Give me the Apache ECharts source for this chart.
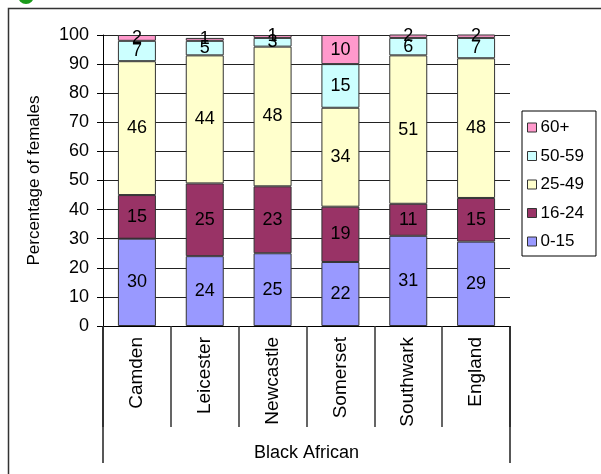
<!DOCTYPE html>
<html>
<head>
<meta charset="utf-8">
<script src="https://cdn.jsdelivr.net/npm/echarts@6/dist/echarts.min.js"></script>
<style>
  html, body { margin: 0; padding: 0; background: #fff; }
  #chart { width: 601px; height: 474px; }
</style>
</head>
<body>
<div id="chart"></div>
<script>
// Age profile of Black African females by area (percent)
const areas = ['Camden', 'Leicester', 'Newcastle', 'Somerset', 'Southwark', 'England'];
const groupName = 'Black African';
const age0to15 = [30, 24, 25, 22, 31, 29];
const age16to24 = [15, 25, 23, 19, 11, 15];
const age25to49 = [46, 44, 48, 34, 51, 48];
const age50to59 = [7, 5, 3, 15, 6, 7];
const age60plus = [2, 1, 1, 10, 2, 2];
const yTicks = [0, 10, 20, 30, 40, 50, 60, 70, 80, 90, 100];

const FONT = 'Liberation Sans, Arial, sans-serif';

const bands = [
  { name: '0-15', data: age0to15, color: '#9999FF' },
  { name: '16-24', data: age16to24, color: '#993366' },
  { name: '25-49', data: age25to49, color: '#FFFFCC' },
  { name: '50-59', data: age50to59, color: '#CCFFFF' },
  { name: '60+', data: age60plus, color: '#FF99CC' }
];

const chart = echarts.init(document.getElementById('chart'), null, { renderer: 'canvas' });

chart.setOption({
  animation: false,
  backgroundColor: '#fff',
  textStyle: { fontFamily: FONT },
  graphic: [
    { type: 'rect', shape: { x: 8.5, y: 8.5, width: 620, height: 500 },
      style: { fill: null, stroke: '#333', lineWidth: 1.5 }, silent: true },
    { type: 'circle', shape: { cx: 26, cy: -4, r: 8 },
      style: { fill: '#1a9a1a' }, silent: true }
  ],
  grid: { left: 103, top: 35, right: 91, bottom: 148, containLabel: false },
  legend: {
    orient: 'vertical',
    left: 522,
    top: 111,
    padding: [8, 12, 6, 5],
    itemGap: 11.5,
    itemWidth: 9,
    itemHeight: 9,
    borderColor: '#000',
    borderWidth: 1,
    icon: 'rect',
    itemStyle: { borderColor: '#333', borderWidth: 1 },
    textStyle: { fontFamily: FONT, fontSize: 17, color: '#000', padding: [0, 0, 0, -1] },
    data: ['60+', '50-59', '25-49', '16-24', '0-15']
  },
  xAxis: [
    {
      type: 'category',
      data: areas,
      position: 'bottom',
      axisLine: { show: true, lineStyle: { color: '#000', width: 1 } },
      axisTick: { show: true, length: 101, interval: 0, alignWithLabel: false,
                  lineStyle: { color: '#333', width: 1.5 } },
      axisLabel: { interval: 0, rotate: 90, margin: 11, fontSize: 19, color: '#000', fontFamily: FONT },
      splitLine: { show: false }
    },
    {
      type: 'category',
      data: [groupName],
      position: 'bottom',
      axisLine: { show: false },
      axisTick: { show: true, length: 137, alignWithLabel: false,
                  lineStyle: { color: '#222', width: 1.5 } },
      axisLabel: { margin: 118, fontSize: 18, color: '#000', fontFamily: FONT },
      splitLine: { show: false }
    }
  ],
  yAxis: {
    type: 'value',
    min: yTicks[0],
    max: yTicks[yTicks.length - 1],
    interval: yTicks[1] - yTicks[0],
    name: 'Percentage of females',
    nameLocation: 'middle',
    nameGap: 60,
    nameTextStyle: { fontSize: 17, color: '#000', fontFamily: FONT },
    axisLine: { show: true, lineStyle: { color: '#000', width: 1 } },
    axisTick: { show: true, length: 6, lineStyle: { color: '#000' } },
    axisLabel: { fontSize: 18, color: '#000', margin: 14, fontFamily: FONT },
    splitLine: { show: true, lineStyle: { color: '#222', width: 1 } }
  },
  series: bands.map(b => ({
    name: b.name,
    type: 'bar',
    stack: 'total',
    xAxisIndex: 0,
    data: b.data,
    barWidth: 38,
    itemStyle: { color: b.color, borderColor: '#333', borderWidth: 1 },
    label: {
      show: true,
      position: 'inside',
      fontSize: 18,
      color: '#000',
      fontFamily: FONT
    }
  }))
});
</script>
</body>
</html>
